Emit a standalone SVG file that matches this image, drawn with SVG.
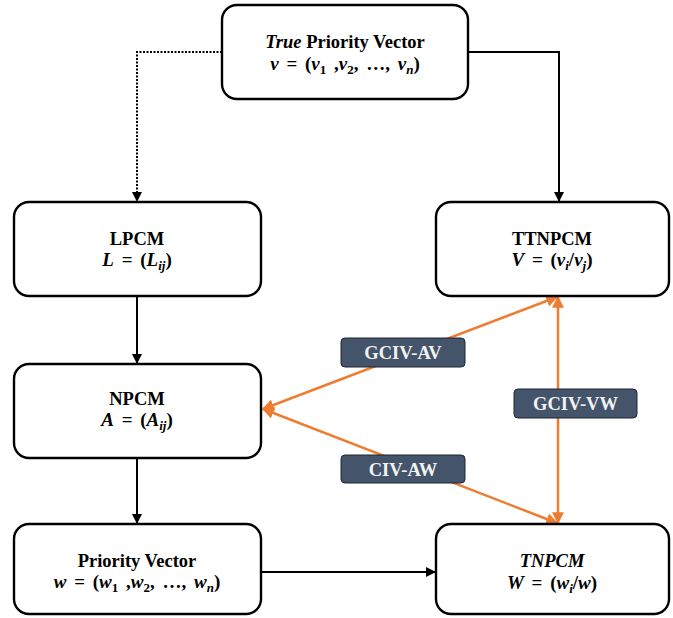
<svg xmlns="http://www.w3.org/2000/svg" width="673" height="618" viewBox="0 0 673 618">
<style>
.box{fill:#fff;stroke:#000;stroke-width:2.4}
.t{font-family:"Liberation Serif","Times New Roman",serif;font-weight:bold;font-size:18.5px;fill:#000;text-anchor:middle}
.m{font-family:"Liberation Serif","Times New Roman",serif;font-weight:bold;font-size:19px;fill:#000;text-anchor:middle;word-spacing:3px}
.mi{font-style:italic}
.lbl{fill:#44546A;stroke:#1f2633;stroke-width:1}
.lt{font-family:"Liberation Serif","Times New Roman",serif;font-weight:bold;font-size:18.5px;fill:#f2f2f2;text-anchor:middle}
.c{fill:none;stroke:#000;stroke-width:2}
.o{fill:none;stroke:#ED7D31;stroke-width:2.5}
</style>
<defs>
<marker id="ab" viewBox="0 0 10 10" refX="10" refY="5" markerWidth="10" markerHeight="10" markerUnits="userSpaceOnUse" orient="auto"><path d="M0,0 L10,5 L0,10 z" fill="#000"/></marker>
<marker id="ao" viewBox="0 0 10 10" refX="9" refY="5" markerWidth="12" markerHeight="12" markerUnits="userSpaceOnUse" orient="auto-start-reverse"><path d="M0,0 L10,5 L0,10 z" fill="#ED7D31"/></marker>
</defs>
<g id="connectors">
<path class="c" d="M222,52 H137 V202" stroke-dasharray="2,1.5" marker-end="url(#ab)"/>
<path class="c" d="M468,52 H559 V202" marker-end="url(#ab)"/>
<path class="c" d="M137,296 V364" marker-end="url(#ab)"/>
<path class="c" d="M137,458 V524" marker-end="url(#ab)"/>
<path class="c" d="M261,572 H436" marker-end="url(#ab)"/>
<path class="o" d="M263,409 L557,297" marker-start="url(#ao)" marker-end="url(#ao)"/>
<path class="o" d="M263,409 L557,523" marker-start="url(#ao)" marker-end="url(#ao)"/>
<path class="o" d="M558,297 V523" marker-start="url(#ao)" marker-end="url(#ao)"/>
</g>
<g id="true-pv">
<rect class="box" x="222" y="5" width="246" height="94" rx="15"/>
<text class="t" x="345" y="48"><tspan class="mi">True</tspan> Priority Vector</text>
<text class="m" x="345" y="70"><tspan class="mi">v</tspan> = (<tspan class="mi">v</tspan><tspan dy="4" font-size="13">1</tspan><tspan dy="-4"> ,</tspan><tspan class="mi">v</tspan><tspan dy="4" font-size="13">2</tspan><tspan dy="-4">, …, </tspan><tspan class="mi">v</tspan><tspan dy="4" font-size="13" class="mi">n</tspan><tspan dy="-4">)</tspan></text>
</g>
<g id="lpcm">
<rect class="box" x="14" y="202" width="247" height="94" rx="15"/>
<text class="t" x="137" y="245">LPCM</text>
<text class="m" x="137" y="266"><tspan class="mi">L</tspan> = (<tspan class="mi">L</tspan><tspan dy="4" font-size="13" class="mi">ij</tspan><tspan dy="-4">)</tspan></text>
</g>
<g id="ttnpcm">
<rect class="box" x="436" y="202" width="233" height="94" rx="15"/>
<text class="t" x="552" y="245">TTNPCM</text>
<text class="m" x="552" y="266"><tspan class="mi">V</tspan> = (<tspan class="mi">v</tspan><tspan dy="4" font-size="13" class="mi">i</tspan><tspan dy="-4">/</tspan><tspan class="mi">v</tspan><tspan dy="4" font-size="13" class="mi">j</tspan><tspan dy="-4">)</tspan></text>
</g>
<g id="npcm">
<rect class="box" x="14" y="364" width="247" height="94" rx="15"/>
<text class="t" x="137" y="405">NPCM</text>
<text class="m" x="137" y="426"><tspan class="mi">A</tspan> = (<tspan class="mi">A</tspan><tspan dy="4" font-size="13" class="mi">ij</tspan><tspan dy="-4">)</tspan></text>
</g>
<g id="pv">
<rect class="box" x="14" y="524" width="247" height="90" rx="15"/>
<text class="t" x="137" y="567">Priority Vector</text>
<text class="m" x="137" y="588"><tspan class="mi">w</tspan> = (<tspan class="mi">w</tspan><tspan dy="4" font-size="13">1</tspan><tspan dy="-4"> ,</tspan><tspan class="mi">w</tspan><tspan dy="4" font-size="13">2</tspan><tspan dy="-4">, …, </tspan><tspan class="mi">w</tspan><tspan dy="4" font-size="13" class="mi">n</tspan><tspan dy="-4">)</tspan></text>
</g>
<g id="tnpcm">
<rect class="box" x="436" y="524" width="233" height="90" rx="15"/>
<text class="t" x="552" y="567"><tspan class="mi">TNPCM</tspan></text>
<text class="m" x="552" y="589"><tspan class="mi">W</tspan> = (<tspan class="mi">w</tspan><tspan dy="4" font-size="13" class="mi">i</tspan><tspan dy="-4">/</tspan><tspan class="mi">w</tspan>)</text>
</g>
<g id="gciv-av">
<rect class="lbl" x="341" y="338" width="124" height="29" rx="4"/>
<text class="lt" x="403" y="359">GCIV-AV</text>
</g>
<g id="civ-aw">
<rect class="lbl" x="341" y="455" width="124" height="28" rx="4"/>
<text class="lt" x="403" y="476">CIV-AW</text>
</g>
<g id="gciv-vw">
<rect class="lbl" x="514" y="389" width="123" height="29" rx="4"/>
<text class="lt" x="575.5" y="410">GCIV-VW</text>
</g>
</svg>
